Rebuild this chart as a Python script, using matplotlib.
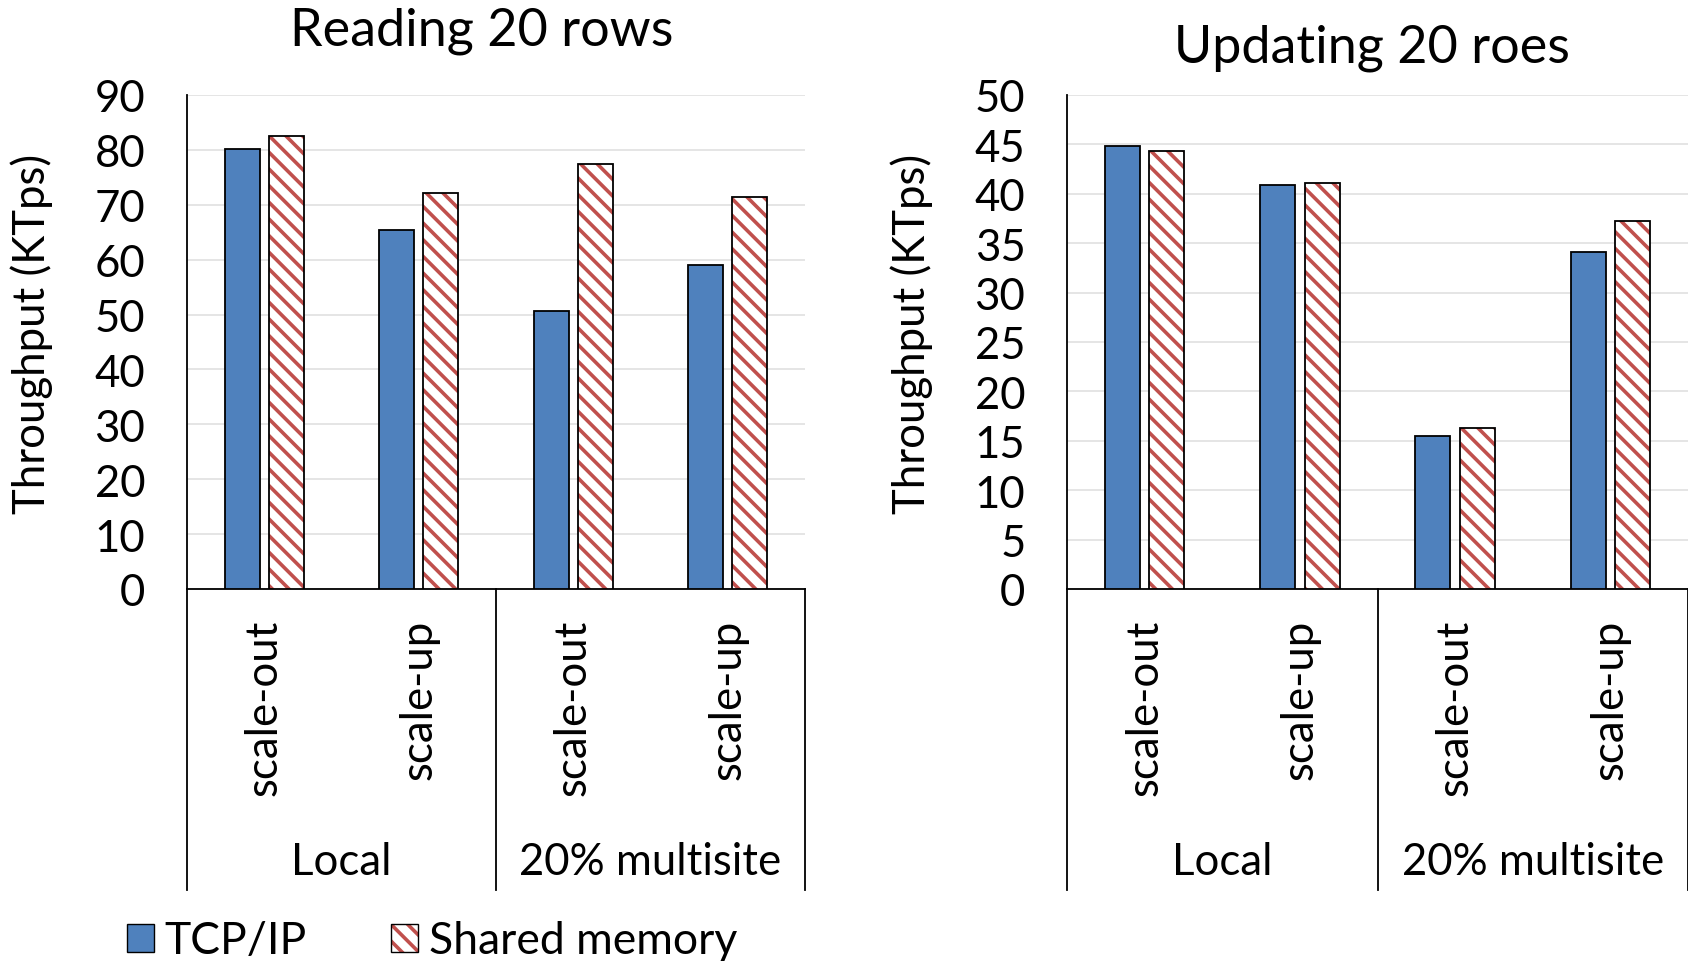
import matplotlib
matplotlib.use("Agg")
import matplotlib.pyplot as plt
from matplotlib.patches import Patch
from matplotlib.legend_handler import HandlerTuple
import numpy as np

plt.rcParams['font.family'] = ['Lato', 'DejaVu Sans']
plt.rcParams['hatch.linewidth'] = 2.6

# ---- data ----
categories = ["scale-out", "scale-up", "scale-out", "scale-up"]
groups = ["Local", "20% multisite"]
series_names = ["TCP/IP", "Shared memory"]

read_tcp = [80.1, 65.4, 50.6, 59.0]
read_shm = [82.5, 72.1, 77.5, 71.4]
update_tcp = [44.8, 40.9, 15.5, 34.1]
update_shm = [44.3, 41.1, 16.3, 37.2]

read_ticks = list(range(0, 91, 10))
update_ticks = list(range(0, 51, 5))

BLUE = "#4F81BD"
RED = "#C0504D"
GRID = "#E3E3E3"
HATCH = "\\\\"
FS = 31.5

W, H = 1688, 962
fig = plt.figure(figsize=(W / 100, H / 100), dpi=100)


def px_axes(x0, x1, ytop, ybot):
    return fig.add_axes([x0 / W, 1 - ybot / H, (x1 - x0) / W, (ybot - ytop) / H])


def draw_panel(ax, tcp, shm, ticks):
    x = np.arange(len(categories)) + 0.5
    off, bw = 0.143, 0.225
    ax.bar(x - off, tcp, bw, color=BLUE, edgecolor="black", linewidth=1.3, zorder=3)
    ax.bar(x + off, shm, bw, color="white", edgecolor=RED, hatch=HATCH,
           linewidth=0, zorder=3)
    ax.bar(x + off, shm, bw, color="none", edgecolor="black", linewidth=1.3, zorder=4)

    ax.set_xlim(0, len(categories))
    ax.set_ylim(ticks[0], ticks[-1])
    ax.set_yticks(ticks)
    ax.set_yticklabels([str(t) for t in ticks], fontsize=FS)
    ax.tick_params(axis="y", length=0, pad=30)
    ax.set_xticks([])
    ax.yaxis.grid(True, color=GRID, linewidth=1.3, zorder=0)
    ax.set_axisbelow(True)
    for s in ("top", "right"):
        ax.spines[s].set_visible(False)
    ax.spines["left"].set_linewidth(1.3)
    ax.spines["bottom"].set_linewidth(1.3)

    # multi-level category axis below the plot
    depth = -0.609
    for xv in (0, 2, 4):
        ax.plot([xv, xv], [0, depth], transform=ax.get_xaxis_transform(),
                color="black", linewidth=1.3, clip_on=False)
    for xi, lab in zip(x, categories):
        ax.text(xi, -0.060, lab, transform=ax.get_xaxis_transform(),
                rotation=90, ha="center", va="top", fontsize=FS)
    for gi, g in enumerate(groups):
        ax.text(gi * 2 + 1, -0.551, g, transform=ax.get_xaxis_transform(),
                ha="center", va="center", fontsize=FS)


ax1 = px_axes(187, 805, 96, 590)
draw_panel(ax1, read_tcp, read_shm, read_ticks)
ax2 = px_axes(1067, 1688, 96, 590)
draw_panel(ax2, update_tcp, update_shm, update_ticks)

fig.text(482 / W, 1 - 31 / H, "Reading 20 rows", ha="center", va="center", fontsize=37.5)
fig.text(1372 / W, 1 - 48 / H, "Updating 20 roes", ha="center", va="center", fontsize=37.5)
fig.text(32 / W, 1 - 334 / H, "Throughput (KTps)", rotation=90, ha="center",
         va="center", fontsize=FS)
fig.text(912 / W, 1 - 334 / H, "Throughput (KTps)", rotation=90, ha="center",
         va="center", fontsize=FS)

# legend
h_tcp = Patch(facecolor=BLUE, edgecolor="black", linewidth=1.0)
h_shm_fill = Patch(facecolor="white", edgecolor=RED, hatch=HATCH, linewidth=0)
h_shm_edge = Patch(facecolor="none", edgecolor="black", linewidth=1.0)
fig.legend([h_tcp, (h_shm_fill, h_shm_edge)], series_names,
           handler_map={tuple: HandlerTuple(ndivide=1, pad=0)},
           loc="center left", bbox_to_anchor=(127 / W, 1 - 942 / H),
           ncol=2, frameon=False, fontsize=32, handlelength=0.6,
           handleheight=0.6, handletextpad=0.25, columnspacing=1.9,
           borderaxespad=0, borderpad=0)

fig.savefig("out.png", dpi=100)
